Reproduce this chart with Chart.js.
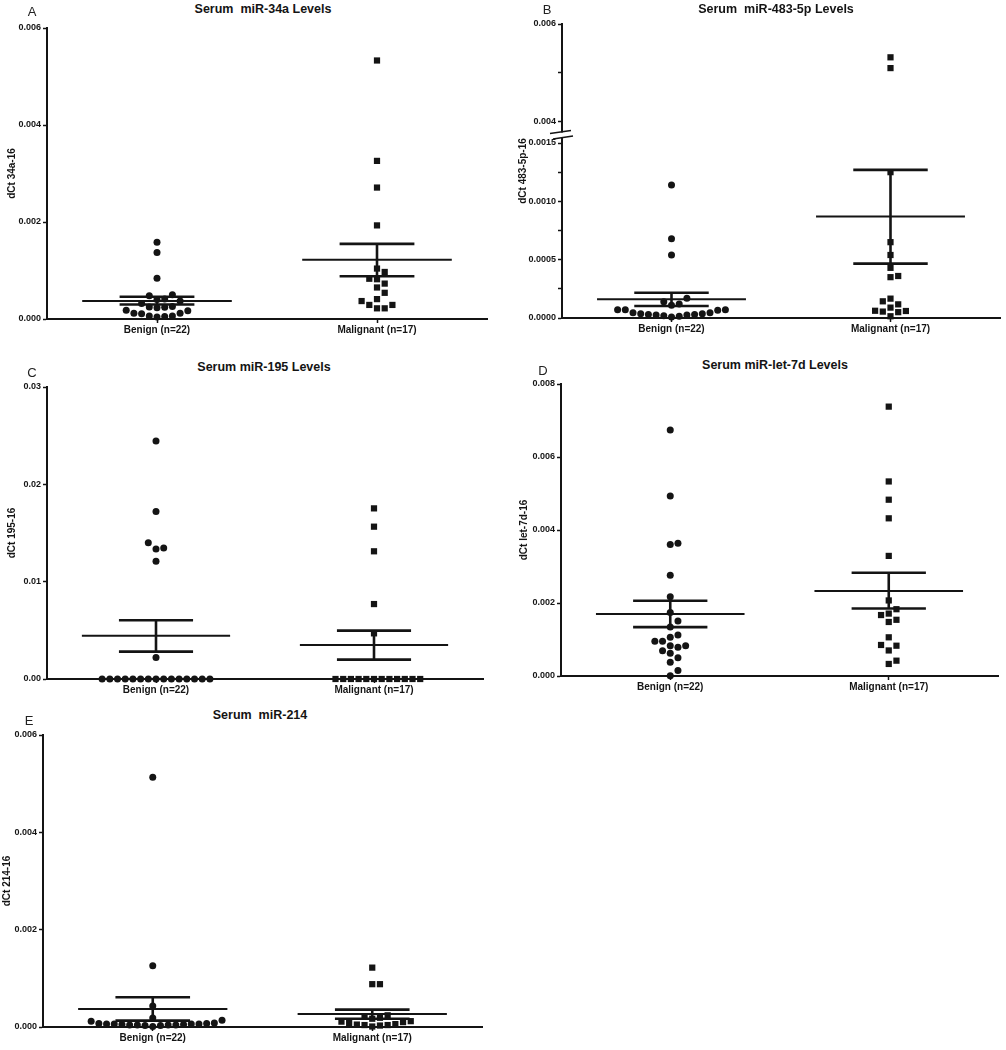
<!DOCTYPE html>
<html><head><meta charset="utf-8">
<script src="https://cdn.jsdelivr.net/npm/chart.js@4.4.1/dist/chart.umd.min.js"></script>
<style>
html,body{margin:0;padding:0;background:#fff}
body{width:1006px;height:1050px;position:relative;overflow:hidden;font-family:"Liberation Sans",Arial,Helvetica,sans-serif;color:#141414}
canvas{position:absolute}
.t{position:absolute;font-weight:bold;font-size:12.5px;white-space:pre;transform:translate(-50%,-50%);z-index:2}
.l{position:absolute;font-size:13px;transform:translate(-50%,-50%);color:#222;z-index:2}
.yt{position:absolute;font-weight:bold;font-size:10px;white-space:pre;transform:translate(-50%,-50%) rotate(-90deg);z-index:2}
</style></head><body>
<script>
// ---------- data ----------
const categories = ['Benign (n=22)', 'Malignant (n=17)'];

// A: miR-34a
const aBenign = [0.00158, 0.00137, 0.00084, 0.00050, 0.00048, 0.00041, 0.00040, 0.00037, 0.00032, 0.00026, 0.00024, 0.00023, 0.00025, 0.00018, 0.00017, 0.00012, 0.00011, 0.00012, 0.00006, 0.00005, 0.00006, 0.00004];
const aMalignant = [0.00533, 0.00326, 0.00271, 0.00193, 0.00104, 0.00097, 0.00083, 0.00082, 0.00073, 0.00065, 0.00054, 0.00041, 0.00037, 0.00029, 0.00029, 0.00022, 0.00022];
const aMean = [0.00037, 0.00122];
const aSemHi = [0.00046, 0.00155];
const aSemLo = [0.00030, 0.00088];
const aTicks = [0, 0.002, 0.004, 0.006];

// B: miR-483-5p (broken axis)
const bBenign = [0.00114, 0.00068, 0.00054, 0.00017, 0.00014, 0.00012, 0.00011, 0.00007, 0.000071, 0.000045, 0.000037, 0.000031, 0.000026, 0.00002, 0.000009, 0.000014, 0.000026, 0.000031, 0.000037, 0.000046, 0.000066, 0.000071];
const bMalignant = [0.00532, 0.0051, 0.00125, 0.00065, 0.00054, 0.00043, 0.00036, 0.00035, 0.000166, 0.000143, 0.000117, 0.000089, 0.000062, 0.00006, 0.00005, 0.000055, 0.000015];
const bMean = [0.00016, 0.00087];
const bSemHi = [0.000217, 0.00127];
const bSemLo = [0.000103, 0.000466];
const bTicksLow = [0, 0.00025, 0.0005, 0.00075, 0.001, 0.00125, 0.0015];
const bLabelsLow = [0, 0.0005, 0.001, 0.0015];
const bTicksHigh = [0.004, 0.005, 0.006];
const bLabelsHigh = [0.004, 0.006];

// C: miR-195
const cBenign = [0.02445, 0.0172, 0.0140, 0.01346, 0.01336, 0.0121, 0.0022, 0, 0, 0, 0, 0, 0, 0, 0, 0, 0, 0, 0, 0, 0, 0];
const cMalignant = [0.01753, 0.01565, 0.01312, 0.0077, 0.00469, 0, 0, 0, 0, 0, 0, 0, 0, 0, 0, 0, 0];
const cMean = [0.00445, 0.00349];
const cSemHi = [0.00603, 0.00497];
const cSemLo = [0.00281, 0.00199];
const cTicks = [0, 0.01, 0.02, 0.03];

// D: miR-let-7d
const dBenign = [0.00674, 0.00493, 0.0036, 0.00364, 0.00276, 0.00217, 0.00174, 0.00151, 0.00134, 0.00112, 0.00106, 0.00095, 0.00095, 0.00083, 0.00079, 0.00083, 0.00069, 0.00062, 0.0005, 0.00038, 0.00015, 0.00001];
const dMalignant = [0.00738, 0.00533, 0.00483, 0.00432, 0.00329, 0.00207, 0.00183, 0.00171, 0.00167, 0.00154, 0.00148, 0.00106, 0.00085, 0.00083, 0.0007, 0.00042, 0.00033];
const dMean = [0.0017, 0.00233];
const dSemHi = [0.00206, 0.00283];
const dSemLo = [0.00134, 0.00185];
const dTicks = [0, 0.002, 0.004, 0.006, 0.008];

// E: miR-214
const eBenign = [0.00513, 0.00126, 0.00043, 0.000185, 0.00012, 0.00008, 0.00007, 0.00006, 0.00006, 0.00005, 0.00004, 0.00004, 0.00003, 0.00001, 0.00003, 0.00004, 0.00004, 0.00005, 0.00006, 0.00006, 0.00007, 0.00014];
const eMalignant = [0.00122, 0.00088, 0.00088, 0.00024, 0.00022, 0.00019, 0.00017, 0.00011, 0.0001, 0.00012, 0.00008, 0.00005, 0.00004, 0.00003, 0.00001, 0.00004, 0.00006];
const eMean = [0.00037, 0.000267];
const eSemHi = [0.00061, 0.000356];
const eSemLo = [0.00013, 0.00017];
const eTicks = [0, 0.002, 0.004, 0.006];

// ---------- styling / layout ----------
const FONT = '"Liberation Sans", Arial, Helvetica, sans-serif';
const INK = '#141414';
const SPACING = 7.7;
const MEAN_HALF = 0.34, CAP_HALF = 0.17;

function simpleAxis(ticks, dec, title) {
  return [{id: 'y', min: ticks[0], max: ticks[ticks.length - 1], ticks: ticks,
    label: v => v.toFixed(dec), title: title, accept: () => true}];
}

const panels = [
  {letter: 'A', lx: 32, ly: 11, title: 'Serum  miR-34a Levels', tx: 263, ty: 9,
   plot: {l: 47, t: 28, r: 487, b: 319}, yAxisW: 47, yTitlePad: 6,
   axes: simpleAxis(aTicks, 3, 'dCt 34a-16'), lineAxis: 'y',
   benign: aBenign, malignant: aMalignant, mean: aMean, hi: aSemHi, lo: aSemLo},
  {letter: 'B', lx: 547, ly: 9, title: 'Serum  miR-483-5p Levels', tx: 776, ty: 9,
   plot: {l: 562, t: 24, r: 1000, b: 318}, yAxisW: 52, yTitlePad: 6,
   htmlYTitle: {text: 'dCt 483-5p-16', x: 522, y: 171},
   axes: [
     {id: 'yHigh', min: 0.003571, max: 0.006, ticks: bTicksHigh, weight: 119, stack: 'b', order: 2,
      label: v => bLabelsHigh.some(w => Math.abs(w - v) < 1e-9) ? v.toFixed(3) : '',
      accept: v => v > 0.0015},
     {id: 'yLow', min: 0, max: 0.0015, ticks: bTicksLow, weight: 175, stack: 'b', order: 1,
      label: v => bLabelsLow.some(w => Math.abs(w - v) < 1e-9) ? v.toFixed(4) : '',
      accept: v => v <= 0.0015}
   ], lineAxis: 'yLow', brokenAxis: true,
   benign: bBenign, malignant: bMalignant, mean: bMean, hi: bSemHi, lo: bSemLo},
  {letter: 'C', lx: 32, ly: 372, title: 'Serum miR-195 Levels', tx: 264, ty: 367,
   plot: {l: 47, t: 387, r: 483, b: 679}, yAxisW: 47, yTitlePad: 6.5,
   axes: simpleAxis(cTicks, 2, 'dCt 195-16'), lineAxis: 'y',
   benign: cBenign, malignant: cMalignant, mean: cMean, hi: cSemHi, lo: cSemLo},
  {letter: 'D', lx: 543, ly: 370, title: 'Serum miR-let-7d Levels', tx: 775, ty: 365,
   plot: {l: 561, t: 384, r: 998, b: 676}, yAxisW: 51, yTitlePad: 8,
   axes: simpleAxis(dTicks, 3, 'dCt let-7d-16'), lineAxis: 'y',
   benign: dBenign, malignant: dMalignant, mean: dMean, hi: dSemHi, lo: dSemLo},
  {letter: 'E', lx: 29, ly: 720, title: 'Serum  miR-214', tx: 260, ty: 715,
   plot: {l: 43, t: 735, r: 482, b: 1027}, yAxisW: 43, yTitlePad: 1,
   axes: simpleAxis(eTicks, 3, 'dCt 214-16'), lineAxis: 'y',
   benign: eBenign, malignant: eMalignant, mean: eMean, hi: eSemHi, lo: eSemLo}
];

function addText(cls, text, x, y) {
  const d = document.createElement('div');
  d.className = cls; d.textContent = text;
  d.style.left = x + 'px'; d.style.top = y + 'px';
  document.body.appendChild(d);
}

function seg(x1, y1, x2, y2, w, axis) {
  return {data: [{x: x1, y: y1}, {x: x2, y: y2}], showLine: true, borderColor: INK,
    borderWidth: w, pointRadius: 0, pointHoverRadius: 0, yAxisID: axis, clip: false, order: 0};
}

function yScale(p, ax) {
  return {
    type: 'linear', position: 'left', min: ax.min, max: ax.max,
    stack: ax.stack, stackWeight: ax.weight, weight: ax.order || 0,
    afterFit: s => { s.width = p.yAxisW; },
    afterBuildTicks: s => { s.ticks = ax.ticks.map(v => ({value: v})); },
    ticks: {autoSkip: false, padding: 2, color: INK, font: {family: FONT, size: 9, weight: 'bold'},
      callback: v => ax.label(v)},
    grid: {display: true, drawOnChartArea: false, drawTicks: true, tickLength: 4, tickWidth: 1.5, tickColor: INK, color: INK},
    border: {display: true, color: INK, width: 2},
    title: ax.title ? {display: true, text: ax.title, color: INK,
      font: {family: FONT, size: 10, weight: 'bold'}, padding: {top: p.yTitlePad, bottom: 0}} : {display: false}
  };
}

function dodge(py, s) {
  const order = py.map((v, i) => i).sort((a, b) => py[a] - py[b]);
  const placed = [];
  const off = new Array(py.length).fill(0);
  for (const i of order) {
    for (let k = 0; k < 300; k++) {
      const o = k === 0 ? 0 : (k % 2 ? 1 : -1) * Math.ceil(k / 2) * s;
      if (placed.every(q => (q.x - o) ** 2 + (q.y - py[i]) ** 2 >= (s * 0.97) ** 2)) {
        off[i] = o; placed.push({x: o, y: py[i]}); break;
      }
    }
  }
  return off;
}

const breakPlugin = {
  id: 'axisBreak',
  afterDraw(chart) {
    const lo = chart.scales.yLow;
    if (!lo) return;
    const ctx = chart.ctx, ax = chart.chartArea.left, yb = lo.top;
    ctx.save();
    ctx.fillStyle = '#fff';
    ctx.fillRect(ax - 3, yb - 10.5, 6, 5);
    ctx.strokeStyle = INK; ctx.lineWidth = 1.5;
    ctx.beginPath();
    ctx.moveTo(ax - 12, yb - 9.5); ctx.lineTo(ax + 9, yb - 12.5);
    ctx.moveTo(ax - 9, yb - 4); ctx.lineTo(ax + 11, yb - 7);
    ctx.stroke();
    ctx.restore();
  }
};

function makeChart(p) {
  const padTop = 12, padRight = 6, xAxisH = 26;
  const left = p.plot.l - p.yAxisW, top = p.plot.t - padTop;
  const w = p.plot.r - left + padRight, h = p.plot.b - top + xAxisH;
  const cv = document.createElement('canvas');
  cv.width = w; cv.height = h;
  cv.style.left = left + 'px'; cv.style.top = top + 'px';
  cv.style.width = w + 'px'; cv.style.height = h + 'px';
  document.body.appendChild(cv);

  const datasets = [];
  [0, 1].forEach(g => {
    const c = g + 1, ya = p.lineAxis;
    datasets.push(seg(c - MEAN_HALF, p.mean[g], c + MEAN_HALF, p.mean[g], 2, ya));
    datasets.push(seg(c - CAP_HALF, p.hi[g], c + CAP_HALF, p.hi[g], 2.6, ya));
    datasets.push(seg(c - CAP_HALF, p.lo[g], c + CAP_HALF, p.lo[g], 2.6, ya));
    datasets.push(seg(c, p.lo[g], c, p.hi[g], 2.6, ya));
  });
  const groups = [
    {vals: p.benign, style: 'circle', r: 3.5},
    {vals: p.malignant, style: 'rect', r: 4.4}
  ];
  groups.forEach((g, gi) => {
    p.axes.forEach(ax => {
      const vals = g.vals.filter(v => ax.accept(v));
      if (!vals.length) return;
      datasets.push({grp: gi, axisKey: ax.id,
        data: vals.map(v => ({x: gi + 1, y: v})), yAxisID: ax.id,
        pointStyle: g.style, pointRadius: g.r, pointHoverRadius: g.r,
        pointBackgroundColor: INK, pointBorderColor: INK, pointBorderWidth: 0,
        showLine: false, clip: false, order: 1});
    });
  });

  const scales = {
    x: {
      type: 'linear', min: 0.5, max: 2.5,
      afterFit: s => { s.height = xAxisH; },
      afterBuildTicks: s => { s.ticks = [{value: 1}, {value: 2}]; },
      ticks: {autoSkip: false, maxRotation: 0, padding: 1, color: INK,
        font: {family: FONT, size: 10, weight: 'bold'},
        callback: v => categories[Math.round(v) - 1]},
      grid: {display: true, drawOnChartArea: false, tickLength: 4, tickWidth: 1.5, tickColor: INK, color: INK},
      border: {display: true, color: INK, width: 2}
    }
  };
  p.axes.forEach(ax => { scales[ax.id] = yScale(p, ax); });

  const chart = new Chart(cv, {
    type: 'scatter',
    data: {datasets},
    options: {
      responsive: false, animation: false, devicePixelRatio: 1,
      layout: {padding: {top: padTop, right: padRight, left: 0, bottom: 0}},
      plugins: {legend: {display: false}, tooltip: {enabled: false}, title: {display: false}},
      events: [],
      scales
    },
    plugins: p.brokenAxis ? [breakPlugin] : []
  });

  // beeswarm-style spreading of points around each category centre
  const xs = chart.scales.x;
  const pxX = xs.width / (xs.max - xs.min);
  chart.data.datasets.forEach(d => {
    if (d.grp === undefined) return;
    const ys = chart.scales[d.axisKey];
    const pxY = ys.height / (ys.max - ys.min);
    const offs = dodge(d.data.map(pt => (pt.y - ys.min) * pxY), SPACING);
    d.data = d.data.map((pt, k) => ({x: d.grp + 1 + offs[k] / pxX, y: pt.y}));
  });
  chart.update('none');

  addText('t', p.title, p.tx, p.ty);
  addText('l', p.letter, p.lx, p.ly);
  if (p.htmlYTitle) addText('yt', p.htmlYTitle.text, p.htmlYTitle.x, p.htmlYTitle.y);
}

panels.forEach(makeChart);
</script>
</body></html>
